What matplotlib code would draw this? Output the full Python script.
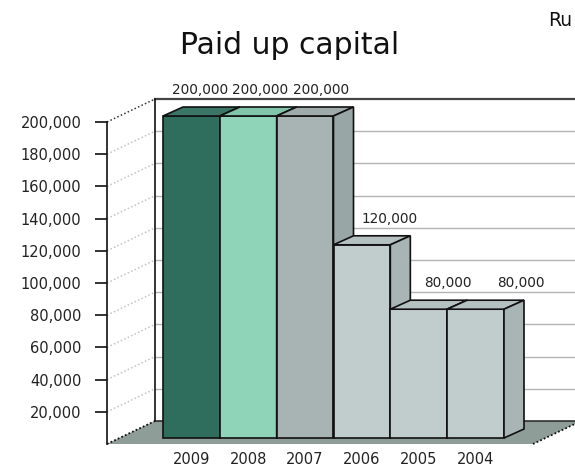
import matplotlib
matplotlib.use("Agg")
import matplotlib.pyplot as plt
from matplotlib.patches import Polygon
from matplotlib.ticker import FuncFormatter

# Paid-up capital by year
years = ["2009", "2008", "2007", "2006", "2005", "2004"]
capital = [200000, 200000, 200000, 120000, 80000, 80000]
value_ticks = [20000, 40000, 60000, 80000, 100000, 120000, 140000, 160000, 180000, 200000]

front_colors = ["#2f6e5d", "#8fd3b8", "#a8b4b3", "#c1cccc", "#c1cccc", "#c1cccc"]
top_colors = ["#3a7565", "#80c5aa", "#9eabaa", "#b5c1c1", "#b5c1c1", "#b5c1c1"]
side_colors = ["#285c4e", "#74b49b", "#98a6a5", "#a9b5b5", "#a9b5b5", "#a9b5b5"]

W, H, DPI = 575, 473, 100
fig = plt.figure(figsize=(W / DPI, H / DPI), dpi=DPI)
fig.patch.set_facecolor("white")

# Axes whose data plane is the front face of the columns
x0_px, base_px = 163, 438          # left edge / baseline of the column fronts (image px)
plot_w_px, plot_h_px = 341, 322
VMAX = 200000
ax = fig.add_axes([x0_px / W, (H - base_px) / H, plot_w_px / W, plot_h_px / H])
ax.set_xlim(-0.5, len(years) - 0.5)
ax.set_ylim(0, VMAX)
ax.set_autoscale_on(False)
for s in ax.spines.values():
    s.set_visible(False)
ax.set_yticks([])
ax.set_xticks(range(len(years)))
ax.set_xticklabels(years, fontsize=10.5, color="#222222")
ax.tick_params(axis="x", length=0, pad=10)
ax.patch.set_alpha(0)

PX_X = plot_w_px / len(years)   # pixels per category
PX_V = plot_h_px / VMAX          # pixels per value unit

# depth offsets (pixels, right / up) relative to the column front plane
FRONT = (-12, -6)
BACK = (36, 17)
DEPTH = (20, 9)


def proj(x, v, off=(0, 0)):
    return (x + off[0] / PX_X, v + off[1] / PX_V)


xL = -0.5 - 44 / PX_X
xR = -0.5 + 382 / PX_X

# back wall gridlines
for v in value_ticks[:-1]:
    a, b = proj(xL, v, BACK), proj(xR, v, BACK)
    ax.plot([a[0], b[0]], [a[1], b[1]], color="#b4b4b4", lw=1, clip_on=False, zorder=1)
a, b = proj(xL, VMAX, BACK), proj(xR, VMAX, BACK)
ax.plot([a[0], b[0]], [a[1], b[1]], color="#444444", lw=1.6, clip_on=False, zorder=1.2)
a, b = proj(xL, 0, BACK), proj(xL, VMAX, BACK)
ax.plot([a[0], b[0]], [a[1], b[1]], color="#111111", lw=1.2, clip_on=False, zorder=1.2)

# left side wall gridlines (dotted)
for v in value_ticks:
    a, b = proj(xL, v, FRONT), proj(xL, v, BACK)
    top = v == VMAX
    ax.plot([a[0], b[0]], [a[1], b[1]], color="#333333" if top else "#c4c4c4",
            lw=1.1, ls=(0, (1, 1.5)), clip_on=False, zorder=1)

# floor
floor = [proj(xL, 0, FRONT), proj(xL, 0, BACK), proj(xR, 0, BACK), proj(xR, 0, FRONT)]
ax.add_patch(Polygon(floor, closed=True, facecolor="#8e9d98", edgecolor="none",
                     clip_on=False, zorder=1.5))
a, b = proj(xL, 0, BACK), proj(xR, 0, BACK)
ax.plot([a[0], b[0]], [a[1], b[1]], color="#222222", lw=1.1, clip_on=False, zorder=1.6)
for xe in (xL, xR):
    a, b = proj(xe, 0, FRONT), proj(xe, 0, BACK)
    ax.plot([a[0], b[0]], [a[1], b[1]], color="#111111", lw=1.3, ls=(0, (1, 1.2)),
            clip_on=False, zorder=1.6)

# columns: front face via bar, then top and right side
bars = ax.bar(range(len(years)), capital, width=1.0, color=front_colors,
              edgecolor="#111111", linewidth=1.2, clip_on=False)
for i, (bar, v) in enumerate(zip(bars, capital)):
    z = 3 + i
    bar.set_zorder(z)
    l, r = i - 0.5, i + 0.5
    top = [proj(l, v), proj(r, v), proj(r, v, DEPTH), proj(l, v, DEPTH)]
    side = [proj(r, 0), proj(r, v), proj(r, v, DEPTH), proj(r, 0, DEPTH)]
    ax.add_patch(Polygon(top, closed=True, facecolor=top_colors[i], edgecolor="#111111",
                         lw=1.2, clip_on=False, zorder=z + 0.1))
    ax.add_patch(Polygon(side, closed=True, facecolor=side_colors[i], edgecolor="#111111",
                         lw=1.2, clip_on=False, zorder=z + 0.1))

# value labels above the columns
label_nudge = [-11, -8, -4, 8, 9, 25]
for i, v in enumerate(capital):
    px, py = proj(i, v, (DEPTH[0] + label_nudge[i], DEPTH[1] + 17))
    ax.text(px, py, f"{v:,}", ha="center", va="center", fontsize=9.8,
            color="#222222", zorder=20, clip_on=False)

# front value axis
fx_px = x0_px + (xL + 0.5) * PX_X + FRONT[0]
fy_px = base_px - FRONT[1]
axy = fig.add_axes([fx_px / W, (H - fy_px) / H, 0.002, plot_h_px / H])
axy.set_ylim(0, VMAX)
axy.patch.set_alpha(0)
for k in ("top", "right", "bottom"):
    axy.spines[k].set_visible(False)
axy.spines["left"].set_color("#111111")
axy.spines["left"].set_linewidth(1.2)
axy.set_xticks([])
axy.set_yticks(value_ticks)
axy.yaxis.set_major_formatter(FuncFormatter(lambda v, p: f"{int(v):,}"))
axy.tick_params(axis="y", length=8.5, width=1.2, color="#111111", pad=10,
                labelsize=10.5, labelcolor="#222222")

fig.text(290 / W, (H - 45) / H, "Paid up capital", ha="center", va="center",
         fontsize=21.5, color="#111111")
fig.text(548 / W, (H - 21) / H, "Ru", ha="left", va="center", fontsize=13.5, color="#111111")

fig.savefig("out.png", dpi=DPI, facecolor="white")
